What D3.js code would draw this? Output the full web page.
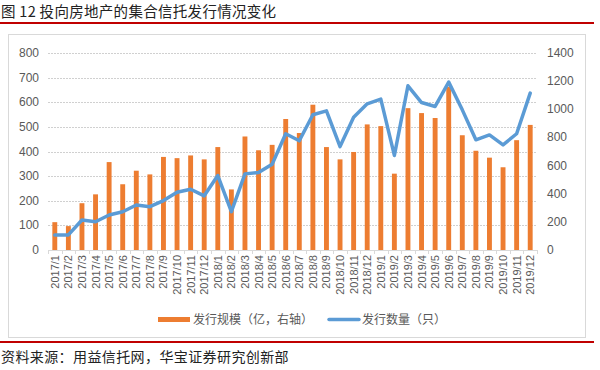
<!DOCTYPE html>
<html>
<head>
<meta charset="utf-8">
<script src="https://cdn.jsdelivr.net/npm/d3@7"></script>
<style>
  body { margin: 0; background: #fff; }
  svg { display: block; }
</style>
</head>
<body>
<div id="chart"></div>
<script>
// months along the x axis
const months = [
  "2017/1","2017/2","2017/3","2017/4","2017/5","2017/6","2017/7","2017/8","2017/9","2017/10","2017/11","2017/12",
  "2018/1","2018/2","2018/3","2018/4","2018/5","2018/6","2018/7","2018/8","2018/9","2018/10","2018/11","2018/12",
  "2019/1","2019/2","2019/3","2019/4","2019/5","2019/6","2019/7","2019/8","2019/9","2019/10","2019/11","2019/12"
];
// bars: 发行规模 (left scale 0-800)
const scale = [
  113, 97, 190, 226, 357, 267, 322, 307, 378, 373, 384, 368,
  418, 246, 461, 405, 427, 532, 475, 590, 418, 368, 398, 510,
  503, 310, 576, 556, 536, 663, 466, 403, 375, 336, 446, 508
];
// line: 发行数量 (right scale 0-1400)
const count = [
  107, 107, 213, 201, 249, 272, 320, 308, 351, 410, 432, 385,
  529, 273, 541, 550, 610, 826, 776, 961, 989, 735, 944, 1039,
  1072, 672, 1167, 1048, 1020, 1193, 996, 783, 818, 747, 826, 1115
];
const leftTicks = [0, 100, 200, 300, 400, 500, 600, 700, 800];
const rightTicks = [0, 200, 400, 600, 800, 1000, 1200, 1400];

const W = 600, H = 370;
const plot = { left: 48, right: 537, top: 53, bottom: 250 };

const svg = d3.select("#chart").append("svg")
  .attr("width", W).attr("height", H);

const txt = "#595959";
const font = "'Liberation Sans', Arial, sans-serif";
const cjk = "'Noto Sans CJK SC', sans-serif";

// title + red rules
svg.append("text")
  .attr("x", 1).attr("y", 17)
  .attr("font-family", cjk).attr("font-size", 14.5).attr("fill", "#222")
  .attr("letter-spacing", 0.3)
  .text("图 12 投向房地产的集合信托发行情况变化");
svg.append("line").attr("x1", 0).attr("x2", 594).attr("y1", 23).attr("y2", 23)
  .attr("stroke", "#c00000").attr("stroke-width", 2.2);
svg.append("line").attr("x1", 0).attr("x2", 594).attr("y1", 342).attr("y2", 342)
  .attr("stroke", "#c00000").attr("stroke-width", 2.2);
svg.append("text")
  .attr("x", 1).attr("y", 362)
  .attr("font-family", cjk).attr("font-size", 14).attr("fill", "#222")
  .attr("letter-spacing", 0.4)
  .text("资料来源：用益信托网，华宝证券研究创新部");

// chart frame
svg.append("rect")
  .attr("x", 8.5).attr("y", 34.5).attr("width", 577).attr("height", 303)
  .attr("fill", "none").attr("stroke", "#d9d9d9");

const x = d3.scaleBand().domain(months)
  .range([plot.left, plot.right]).paddingInner(0.64).paddingOuter(0.32);
const yL = d3.scaleLinear().domain([0, 800]).range([plot.bottom, plot.top]);
const yR = d3.scaleLinear().domain([0, 1400]).range([plot.bottom, plot.top]);

// gridlines
svg.append("g").selectAll("line")
  .data(leftTicks.filter(d => d > 0))
  .join("line")
  .attr("x1", plot.left).attr("x2", plot.right)
  .attr("y1", d => Math.round(yL(d)) + 0.5).attr("y2", d => Math.round(yL(d)) + 0.5)
  .attr("stroke", "#d0d0d0").attr("stroke-dasharray", "2,1");

// left axis labels
svg.append("g").selectAll("text")
  .data(leftTicks)
  .join("text")
  .attr("x", 39).attr("y", d => yL(d) + 4)
  .attr("text-anchor", "end")
  .attr("font-family", font).attr("font-size", 12).attr("fill", txt)
  .text(d => d);

// right axis labels
svg.append("g").selectAll("text")
  .data(rightTicks)
  .join("text")
  .attr("x", 547).attr("y", d => yR(d) + 4)
  .attr("font-family", font).attr("font-size", 12).attr("fill", txt)
  .text(d => d);

// bars
svg.append("g").selectAll("rect")
  .data(scale)
  .join("rect")
  .attr("x", (d, i) => x(months[i]))
  .attr("width", x.bandwidth())
  .attr("y", d => yL(d))
  .attr("height", d => yL(0) - yL(d))
  .attr("fill", "#ed7d31");

// x axis line and ticks
svg.append("line")
  .attr("x1", plot.left).attr("x2", plot.right)
  .attr("y1", plot.bottom + 0.5).attr("y2", plot.bottom + 0.5)
  .attr("stroke", "#d9d9d9");
const step = x.step();
svg.append("g").selectAll("line")
  .data(d3.range(months.length + 1))
  .join("line")
  .attr("x1", i => Math.round(plot.left + i * step) + 0.5)
  .attr("x2", i => Math.round(plot.left + i * step) + 0.5)
  .attr("y1", plot.bottom).attr("y2", plot.bottom + 4)
  .attr("stroke", "#d9d9d9");

// x labels rotated
svg.append("g").selectAll("text")
  .data(months)
  .join("text")
  .attr("transform", d => `translate(${x(d) + x.bandwidth() / 2 + 4},255) rotate(-90)`)
  .attr("text-anchor", "end")
  .attr("font-family", font).attr("font-size", 11).attr("fill", txt)
  .text(d => d);

// line
const line = d3.line()
  .x((d, i) => x(months[i]) + x.bandwidth() / 2)
  .y(d => yR(d));
svg.append("path")
  .datum(count)
  .attr("d", line)
  .attr("fill", "none")
  .attr("stroke", "#5b9bd5")
  .attr("stroke-width", 3.5)
  .attr("stroke-linejoin", "round")
  .attr("stroke-linecap", "round");

// legend
const legend = svg.append("g").attr("font-family", cjk).attr("font-size", 12).attr("fill", txt);
legend.append("rect").attr("x", 158).attr("y", 317).attr("width", 32).attr("height", 5).attr("fill", "#ed7d31");
legend.append("text").attr("x", 193).attr("y", 324).text("发行规模（亿，右轴）");
legend.append("line").attr("x1", 329).attr("x2", 359).attr("y1", 319.5).attr("y2", 319.5)
  .attr("stroke", "#5b9bd5").attr("stroke-width", 3.5).attr("stroke-linecap", "round");
legend.append("text").attr("x", 362).attr("y", 324).text("发行数量（只）");
</script>
</body>
</html>
